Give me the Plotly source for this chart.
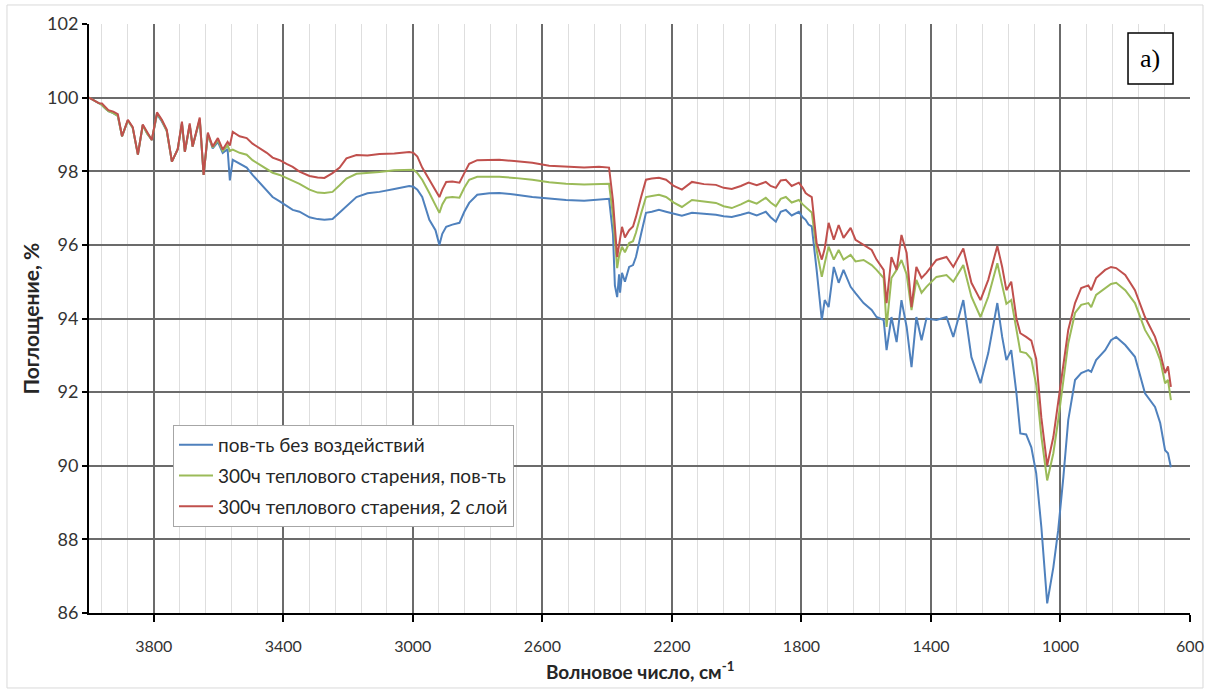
import plotly.graph_objects as go

# Wavenumber, cm^-1 (shared by all three spectra)
wavenumber = [
    4000, 3985, 3970, 3960, 3951, 3940, 3925, 3911, 3898, 3880, 3865, 3849, 3834, 3820, 3806,
    3790, 3775, 3760, 3744, 3726, 3713, 3704,
    3689, 3680, 3658, 3646, 3633, 3618, 3602, 3587, 3572, 3565, 3556, 3535, 3513, 3495, 3473,
    3451, 3433, 3411, 3390, 3371, 3350, 3319, 3294, 3273, 3248, 3226, 3205, 3174, 3140, 3103,
    3057, 3011, 2998, 2986, 2971, 2949, 2930, 2918, 2909, 2897, 2878, 2856, 2841, 2826, 2801,
    2764, 2733, 2687, 2631, 2579, 2527, 2471, 2425, 2394, 2382, 2376, 2369, 2363, 2360, 2354,
    2345, 2332, 2320, 2311, 2295, 2280, 2262, 2240, 2218, 2194, 2169, 2138, 2101, 2064, 2040,
    2015, 1987, 1963, 1938, 1910, 1895, 1879, 1864, 1848, 1830, 1808, 1796, 1787, 1778, 1768,
    1753, 1737, 1728, 1716, 1700, 1685, 1670, 1648, 1633, 1608, 1583, 1568, 1546, 1537, 1522,
    1506, 1491, 1475, 1460, 1445, 1429, 1414, 1383, 1352, 1331, 1300, 1275, 1247, 1223, 1195,
    1180, 1167, 1152, 1136, 1124, 1106, 1090, 1075, 1059, 1041, 1022, 1007, 991, 976, 955,
    936, 914, 905, 890, 862, 844, 828, 800, 770, 739, 708, 692, 677, 668, 659,
]

surface_untreated = [
    100.0, 99.92, 99.83, 99.8, 99.72, 99.63, 99.58, 99.5, 98.95, 99.38, 99.18, 98.45, 99.25, 99.02, 98.85,
    99.55, 99.35, 99.1, 98.26, 98.6, 99.3, 98.53,
    99.25, 98.67, 99.4, 97.9, 99.0, 98.62, 98.8, 98.5, 98.6, 97.75, 98.31, 98.2, 98.1, 97.9, 97.69,
    97.5, 97.3, 97.18, 97.06, 96.95, 96.9, 96.75, 96.7, 96.68, 96.7, 96.88, 97.05, 97.3, 97.4, 97.44,
    97.52, 97.6, 97.58, 97.5, 97.3, 96.68, 96.4, 96.0, 96.3, 96.49, 96.55, 96.6, 96.9, 97.14, 97.36,
    97.4, 97.41, 97.37, 97.3, 97.25, 97.22, 97.2, 97.22, 97.25, 96.3, 94.9, 94.58, 95.2, 94.7, 95.24,
    95.0, 95.4, 95.45, 95.67, 96.3, 96.87, 96.9, 96.95, 96.9, 96.85, 96.79, 96.87, 96.85, 96.82, 96.78,
    96.76, 96.82, 96.88, 96.8, 96.9, 96.75, 96.63, 96.9, 96.95, 96.8, 96.9, 96.75, 96.68, 96.55, 96.5,
    95.32, 93.96, 94.5, 94.31, 95.4, 94.97, 95.32, 94.86, 94.69, 94.42, 94.23, 94.04, 93.96, 93.14, 94.04,
    93.36, 94.5, 93.77, 92.68, 94.04, 93.41, 94.0, 93.96, 94.04, 93.5, 94.5, 92.95, 92.24, 93.06, 94.42,
    93.5, 92.87, 93.14, 91.97, 90.88, 90.85, 90.5, 89.8, 88.33, 86.26, 87.24, 88.25, 89.7, 91.24, 92.33,
    92.52, 92.6, 92.55, 92.87, 93.14, 93.41, 93.5, 93.28, 92.96, 91.97, 91.6, 91.16, 90.42, 90.34, 89.96,
]

aged_surface = [
    100.0, 99.92, 99.83, 99.8, 99.72, 99.63, 99.58, 99.5, 98.95, 99.38, 99.18, 98.45, 99.25, 99.02, 98.85,
    99.57, 99.38, 99.1, 98.26, 98.6, 99.3, 98.53,
    99.25, 98.67, 99.42, 97.9, 99.0, 98.65, 98.85, 98.55, 98.7, 98.55, 98.59, 98.5, 98.45, 98.3, 98.18,
    98.05, 97.96, 97.9, 97.82, 97.75, 97.66, 97.5, 97.42, 97.41, 97.44, 97.62, 97.8, 97.93, 97.95, 97.98,
    98.03, 98.05, 98.04, 97.95, 97.77, 97.41, 97.1, 96.87, 97.1, 97.28, 97.3, 97.28, 97.55, 97.77, 97.85,
    97.85, 97.85, 97.82, 97.77, 97.7, 97.66, 97.64, 97.66, 97.66, 96.8, 96.0, 95.37, 95.7, 95.8, 95.95,
    95.8, 96.05, 96.1, 96.33, 96.85, 97.3, 97.33, 97.36, 97.3, 97.15, 97.03, 97.22, 97.18, 97.14, 97.05,
    97.0, 97.1, 97.2, 97.12, 97.28, 97.15, 97.05, 97.25, 97.3, 97.15, 97.22, 97.1, 97.03, 96.95, 96.88,
    95.86, 95.13, 95.5, 95.95, 95.6, 95.86, 95.6, 95.73, 95.55, 95.59, 95.45, 95.32, 95.1, 93.77, 95.1,
    95.32, 95.59, 95.2, 94.23, 95.05, 94.7, 94.86, 95.13, 95.18, 95.0, 95.45, 94.59, 94.04, 94.59, 95.5,
    94.9, 94.4, 94.5, 93.69, 93.1, 93.06, 92.9, 92.2, 90.8, 89.6, 90.34, 91.24, 92.33, 93.33, 94.15,
    94.37, 94.42, 94.31, 94.64, 94.83, 94.94, 94.97, 94.77, 94.42, 93.69, 93.23, 92.87, 92.24, 92.33, 91.78,
]

aged_layer2 = [
    100.0, 99.93, 99.85, 99.84, 99.75, 99.66, 99.62, 99.55, 98.95, 99.4, 99.2, 98.45, 99.27, 99.05, 98.85,
    99.6, 99.4, 99.13, 98.26, 98.6, 99.35, 98.53,
    99.3, 98.67, 99.46, 97.9, 99.05, 98.67, 98.9, 98.59, 98.8, 98.7, 99.07, 98.95, 98.9, 98.75, 98.63,
    98.5, 98.37, 98.3, 98.2, 98.12, 97.99, 97.87, 97.83, 97.82, 97.95, 98.1, 98.35, 98.44, 98.43, 98.47,
    98.48, 98.52, 98.5, 98.4, 98.1, 97.77, 97.5, 97.3, 97.5, 97.71, 97.72, 97.69, 97.95, 98.2, 98.3,
    98.3, 98.31, 98.28, 98.23, 98.15, 98.12, 98.1, 98.12, 98.1, 97.2, 96.5, 95.67, 96.0, 96.2, 96.49,
    96.2, 96.4, 96.5, 96.76, 97.3, 97.77, 97.8, 97.82, 97.77, 97.6, 97.5, 97.71, 97.65, 97.63, 97.55,
    97.52, 97.6, 97.69, 97.62, 97.71, 97.6, 97.55, 97.75, 97.77, 97.6, 97.69, 97.55, 97.41, 97.35, 97.3,
    96.05, 95.6, 95.9, 96.6, 96.14, 96.54, 96.19, 96.46, 96.14, 96.0, 95.86, 95.6, 95.32, 94.42, 95.67,
    95.32, 96.27, 95.78, 94.31, 95.4, 95.1, 95.24, 95.59, 95.67, 95.4, 95.9, 94.97, 94.5, 95.05, 95.97,
    95.4, 94.77, 95.0, 94.0, 93.6, 93.5, 93.4, 92.9, 91.3, 90.01, 90.78, 91.73, 92.68, 93.69, 94.42,
    94.83, 94.9, 94.77, 95.1, 95.32, 95.4, 95.37, 95.18, 94.77, 94.04, 93.5, 93.06, 92.52, 92.7, 92.14,
]

series_names = [
    "пов-ть без воздействий",
    "300ч теплового старения, пов-ть",
    "300ч теплового старения, 2 слой",
]
series_values = [surface_untreated, aged_surface, aged_layer2]
series_colors = ["#4F81BD", "#9BBB59", "#C0504D"]

x_ticks = [3800, 3400, 3000, 2600, 2200, 1800, 1400, 1000, 600]
y_ticks = [86, 88, 90, 92, 94, 96, 98, 100, 102]

FONT = "Lato, 'Open Sans', sans-serif"

fig = go.Figure()
for i, (name, vals, col) in enumerate(zip(series_names, series_values, series_colors)):
    fig.add_trace(go.Scatter(
        x=wavenumber, y=vals, mode="lines", name=name,
        legendgroup=f"g{i}",
        line=dict(color=col, width=2),
    ))

fig.update_layout(
    width=1207, height=691, autosize=False,
    margin=dict(l=89, r=17, t=24, b=78, autoexpand=False),
    paper_bgcolor="white", plot_bgcolor="white",
    font=dict(family=FONT, color="#333333"),
    showlegend=True,
    legend=dict(
        x=0.0763, y=0.3192, xanchor="left", yanchor="top",
        bgcolor="white", bordercolor="#a6a6a6", borderwidth=1,
        font=dict(size=19, color="#262626", family=FONT),
        tracegroupgap=3, traceorder="grouped",
        itemwidth=34,
    ),
    xaxis=dict(
        range=[4000, 600], autorange=False, automargin=False,
        tickvals=x_ticks, ticktext=[str(v) for v in x_ticks],
        showgrid=True, gridcolor="#6b6b6b", gridwidth=1.5,
        minor=dict(dtick=80, tick0=600, showgrid=True, gridcolor="#dedede", gridwidth=1, ticklen=0),
        showline=True, linecolor="black", linewidth=2,
        ticks="outside", ticklen=7, tickwidth=1.5, tickcolor="black",
        ticklabelstandoff=11,
        tickfont=dict(size=16, color="#333333"),
        zeroline=False,
    ),
    yaxis=dict(
        range=[86, 102], autorange=False, automargin=False,
        tickvals=y_ticks,
        showgrid=True, gridcolor="#6b6b6b", gridwidth=1.5,
        showline=True, linecolor="black", linewidth=2,
        ticks="outside", ticklen=5, tickwidth=1.5, tickcolor="black",
        tickfont=dict(size=18, color="#333333"),
        zeroline=False,
    ),
)

# Axis titles
fig.add_annotation(
    text="<b>Волновое число, см<sup>-1</sup></b>",
    xref="paper", yref="paper", x=0.5, y=-0.097, yanchor="middle", xanchor="center",
    showarrow=False, font=dict(size=19, color="#262626", family=FONT),
)
fig.add_annotation(
    text="<b>Поглощение, %</b>",
    xref="paper", yref="paper", x=-0.0535, y=0.5, xanchor="center", yanchor="middle",
    textangle=-90, showarrow=False, font=dict(size=21, color="#262626", family=FONT),
)

# Panel label "a)"
fig.add_shape(type="rect", xref="paper", yref="paper",
              x0=0.9437, x1=0.9846, y0=0.8981, y1=0.9847,
              line=dict(color="black", width=1.5), fillcolor="white", layer="above")
fig.add_annotation(
    text="a)", xref="paper", yref="paper", x=0.9641, y=0.9414,
    xanchor="center", yanchor="middle", showarrow=False,
    font=dict(size=26, color="black", family="'Liberation Serif', 'Times New Roman', serif"),
)

# Outer chart frame
fig.add_shape(type="rect", xref="paper", yref="paper",
              x0=-0.0745, x1=1.0118, y0=-0.1273, y1=1.0323,
              line=dict(color="#d9d9d9", width=1), fillcolor="rgba(0,0,0,0)", layer="below")

fig.write_html(
    "out.html",
    config={"displayModeBar": False, "responsive": False},
    post_script="document.body.style.margin='0';document.body.style.overflow='hidden';",
)
